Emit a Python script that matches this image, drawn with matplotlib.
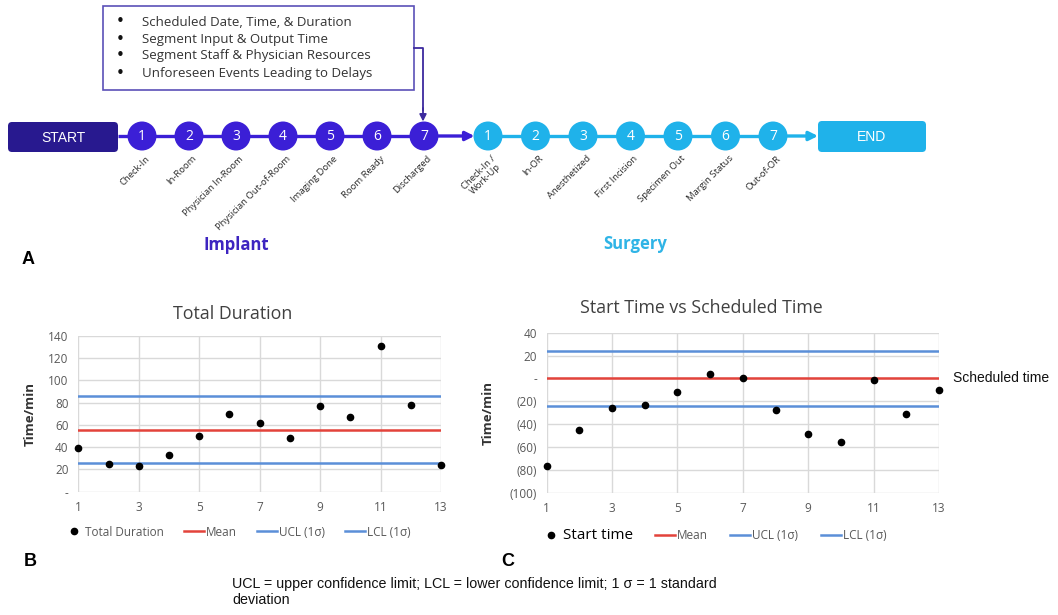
import numpy as np
import matplotlib.pyplot as plt
from matplotlib.patches import Circle, FancyBboxPatch, Rectangle
from matplotlib.lines import Line2D

plt.rcParams['font.family'] = ['Open Sans', 'DejaVu Sans']

# workflow steps
implant_steps = ["Check-In", "In-Room", "Physician In-Room", "Physician Out-of-Room",
                 "Imaging Done", "Room Ready", "Discharged"]
surgery_steps = ["Check-In /\nWork-Up", "In-OR", "Anesthetized", "First Incision",
                 "Specimen Out", "Margin Status", "Out-of-OR"]
tracked_items = ["Scheduled Date, Time, & Duration", "Segment Input & Output Time",
                 "Segment Staff & Physician Resources", "Unforeseen Events Leading to Delays"]

# per-case data
cases = np.arange(1, 14)
total_duration = [39, 25, 23, 33, 50, 70, 62, 48, 77, 67, 131, 78, 24]
start_delta = [-77, -45, -26, -23, -12, 4, 0, -28, -49, -56, -1, -31, -10]
start_mean, start_ucl, start_lcl = 0, 24, -24

dur_mean = np.mean(total_duration)
dur_sd = np.std(total_duration, ddof=1)
dur_ucl, dur_lcl = dur_mean + dur_sd, dur_mean - dur_sd

PURPLE = "#3b1fd6"
NAVY = "#28198f"
CYAN = "#1fb2ea"
RED = "#e3433b"
BLUE = "#5b8fd8"
GRID = "#d9d9d9"
TXT = "#595959"
ARIAL = ["Liberation Sans", "DejaVu Sans"]

W, H = 1058, 615
fig = plt.figure(figsize=(W / 100, H / 100), dpi=100)

# overlay in pixel coordinates for the flow diagram and loose labels
ov = fig.add_axes([0, 0, 1, 1])
ov.set_xlim(0, W)
ov.set_ylim(H, 0)
ov.axis("off")

# ---- A: flow diagram ----
cy = 136
r = 14.5
px = [142 + 47 * i for i in range(7)]
cx = [488 + 47.5 * i for i in range(7)]

ov.plot([118, px[-1]], [cy, cy], color=PURPLE, lw=2.4, solid_capstyle="butt")
ov.annotate("", xy=(cx[0] - r + 1, cy), xytext=(px[-1] + r, cy),
            arrowprops=dict(arrowstyle="-|>", color=PURPLE, lw=2.4,
                            mutation_scale=13, shrinkA=0, shrinkB=0))
ov.plot([cx[0], cx[-1]], [cy, cy], color=CYAN, lw=2.4)
ov.annotate("", xy=(818, cy), xytext=(cx[-1] + r, cy),
            arrowprops=dict(arrowstyle="-|>", color=CYAN, lw=2.4,
                            mutation_scale=13, shrinkA=0, shrinkB=0))

ov.add_patch(FancyBboxPatch((8, 122), 110, 30, boxstyle="round,pad=0,rounding_size=4",
                            fc=NAVY, ec="none"))
ov.text(63, 137.5, "START", color="white", fontsize=10, ha="center", va="center", family=ARIAL)
ov.add_patch(FancyBboxPatch((818, 121), 108, 31, boxstyle="round,pad=0,rounding_size=4",
                            fc=CYAN, ec="none"))
ov.text(872, 137, "END", color="white", fontsize=10, ha="center", va="center", family=ARIAL)

for xs, steps, col in [(px, implant_steps, PURPLE), (cx, surgery_steps, CYAN)]:
    for i, (x, lab) in enumerate(zip(xs, steps)):
        ov.add_patch(Circle((x, cy), r, fc=col, ec="none", zorder=3))
        ov.text(x, cy + 0.5, str(i + 1), color="white", fontsize=10, ha="center",
                va="center", zorder=4)
        ov.text(x + 3, cy + 18, lab, rotation=45, rotation_mode="anchor", ha="right",
                va="top", fontsize=6.8, color="#2a2a2a", multialignment="center",
                linespacing=1.0)

# info box with connector to the last implant step
ov.add_patch(Rectangle((103, 6), 311, 84, fc="white", ec="#5b50b8", lw=1.2))
for k, item in enumerate(tracked_items):
    y = 22 + 17 * k
    ov.text(120, y, "\u2022", fontsize=11, ha="center", va="center", color="#111111",
            family="DejaVu Sans")
    ov.text(142, y, item, fontsize=9.5, va="center", color="#333333")
ov.plot([414, 423, 423], [48, 48, 110], color="#3d2a9e", lw=1.3)
ov.annotate("", xy=(423, cy - r), xytext=(423, 108),
            arrowprops=dict(arrowstyle="-|>", color="#3d2a9e", lw=1.3,
                            mutation_scale=10, shrinkA=0, shrinkB=0))

ov.text(236, 245, "Implant", fontsize=12, fontweight="bold", color="#3d24c0",
        ha="center", va="center")
ov.text(635, 244, "Surgery", fontsize=12, fontweight="bold", color="#2fb4e6",
        ha="center", va="center")

for lab, x, y in [("A", 28, 260), ("B", 30, 562), ("C", 508, 562)]:
    ov.text(x, y, lab, fontsize=13, fontweight="bold", family=ARIAL,
            ha="center", va="center")

ov.text(232, 592, "UCL = upper confidence limit; LCL = lower confidence limit; 1 \u03c3 = 1 standard\n"
        "deviation", fontsize=10.3, family=ARIAL, va="center", linespacing=1.2,
        color="#111111")


def style_axes(ax, yticks, ylabels, label_x):
    ax.set_xlim(1, 13)
    ax.set_xticks(range(1, 14, 2))
    ax.set_yticks(yticks)
    ax.set_yticklabels(ylabels)
    ax.set_ylim(yticks[0], yticks[-1])
    ax.grid(True, color=GRID, lw=1)
    ax.set_axisbelow(True)
    for s in ax.spines.values():
        s.set_visible(False)
    ax.tick_params(length=0, labelsize=8.5, colors=TXT, pad=7)
    ax.set_ylabel("Time/min", fontsize=9.5, fontweight="bold", color="#333333")
    ax.yaxis.set_label_coords(label_x, 0.5)


def legend_handles(first):
    return [Line2D([], [], marker="o", ls="none", color="black", ms=4.5, label=first),
            Line2D([], [], color=RED, lw=1.8, label="Mean"),
            Line2D([], [], color=BLUE, lw=1.8, label="UCL (1\u03c3)"),
            Line2D([], [], color=BLUE, lw=1.8, label="LCL (1\u03c3)")]


# ---- B: total duration ----
axb = fig.add_axes([78.3 / W, 1 - 491.7 / H, (441 - 78.3) / W, (491.7 - 336) / H])
style_axes(axb, list(range(0, 141, 20)),
           ["-"] + [str(v) for v in range(20, 141, 20)], -0.115)
axb.axhline(dur_mean, color=RED, lw=1.8)
axb.axhline(dur_ucl, color=BLUE, lw=1.8)
axb.axhline(dur_lcl, color=BLUE, lw=1.8)
axb.plot(cases, total_duration, "o", color="black", ms=4.5, clip_on=False, zorder=5)
axb.set_title("Total Duration", fontsize=12.8, color="#404040", pad=12, x=0.427)
leg = axb.legend(handles=legend_handles("Total Duration"), loc="center",
                 bbox_to_anchor=(0.438, -0.259), ncol=4, frameon=False, fontsize=8.5,
                 handlelength=1.7, handletextpad=0.15, columnspacing=1.7)
for t in leg.get_texts():
    t.set_color(TXT)

# ---- C: start time vs scheduled ----
axc = fig.add_axes([546.7 / W, 1 - 492.7 / H, (939 - 546.7) / W, 160 / H])
cvals = list(range(-100, 41, 20))
clabels = [f"({-v})" if v < 0 else ("-" if v == 0 else str(v)) for v in cvals]
style_axes(axc, cvals, clabels, -0.132)
axc.axhline(start_mean, color=RED, lw=1.8)
axc.axhline(start_ucl, color=BLUE, lw=1.8)
axc.axhline(start_lcl, color=BLUE, lw=1.8)
axc.plot(cases, start_delta, "o", color="black", ms=4.5, clip_on=False, zorder=5)
axc.set_title("Start Time vs Scheduled Time", fontsize=12.8, color="#404040", pad=14,
              x=0.395)
axc.annotate("Scheduled time", xy=(1, start_mean), xycoords=("axes fraction", "data"),
             xytext=(14, 0), textcoords="offset pixels", va="center", fontsize=10,
             family=ARIAL, color="#111111", annotation_clip=False)
leg = axc.legend(handles=legend_handles("Start time"), loc="center",
                 bbox_to_anchor=(0.425, -0.27), ncol=4, frameon=False, fontsize=8.5,
                 handlelength=1.7, handletextpad=0.15, columnspacing=1.9)
for i, t in enumerate(leg.get_texts()):
    t.set_color("black" if i == 0 else TXT)
    if i == 0:
        t.set_fontsize(11)

fig.savefig("out.png", dpi=100)
